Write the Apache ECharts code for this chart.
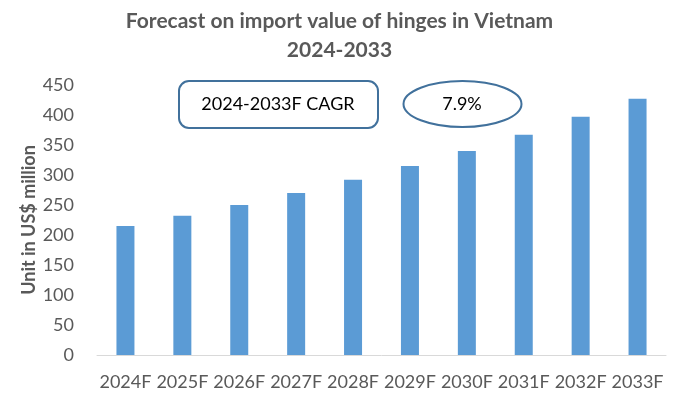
<!DOCTYPE html>
<html>
<head>
<meta charset="utf-8">
<script src="https://cdn.jsdelivr.net/npm/echarts@6/dist/echarts.min.js"></script>
<style>
html,body{margin:0;padding:0;background:#fff;}
#chart{width:679px;height:410px;}
</style>
</head>
<body>
<div id="chart"></div>
<script>
const categories = ['2024F','2025F','2026F','2027F','2028F','2029F','2030F','2031F','2032F','2033F'];
const importValues = [215, 232, 250, 270, 292, 315, 340, 367, 397, 427];
const titleLines = ['Forecast on import value of hinges in Vietnam', '2024-2033'];
const yAxisName = 'Unit in US$ million';
const cagrLabel = '2024-2033F CAGR';
const cagrValue = '7.9%';

const FONT = 'Lato, "Open Sans", sans-serif';
const chart = echarts.init(document.getElementById('chart'), null, {renderer: 'canvas'});
chart.setOption({
  animation: false,
  backgroundColor: '#fff',
  title: {
    text: titleLines.join('\n'),
    left: 'center',
    top: 2,
    textStyle: {fontFamily: FONT, fontSize: 21, fontWeight: 'bold', color: '#595959', lineHeight: 28.5}
  },
  grid: {left: 97, right: 13, top: 85, bottom: 55},
  xAxis: {
    type: 'category',
    data: categories,
    axisLine: {lineStyle: {color: '#d9d9d9', width: 1}},
    axisTick: {show: false},
    axisLabel: {fontFamily: FONT, fontSize: 18, color: '#595959', margin: 18, interval: 0}
  },
  yAxis: {
    type: 'value',
    min: 0, max: 450, interval: 50,
    name: yAxisName,
    nameLocation: 'middle',
    nameGap: 59,
    nameMoveOverlap: false,
    nameTextStyle: {fontFamily: FONT, fontSize: 18, fontWeight: 'bold', color: '#595959'},
    axisLine: {show: false},
    axisTick: {show: false},
    splitLine: {show: false},
    axisLabel: {fontFamily: FONT, fontSize: 18, color: '#595959', margin: 23}
  },
  series: [{
    type: 'bar',
    data: importValues,
    barWidth: 18,
    itemStyle: {color: '#5B9BD5'}
  }],
  graphic: [
    {
      type: 'rect',
      shape: {x: 179, y: 81, width: 199, height: 47, r: 10},
      style: {fill: '#fff', stroke: '#41719C', lineWidth: 2},
      z: 10
    },
    {
      type: 'text',
      x: 278, y: 104.5,
      style: {text: cagrLabel, fontFamily: FONT, fontSize: 18, fill: '#000', align: 'center', verticalAlign: 'middle'},
      z: 11
    },
    {
      type: 'ellipse',
      shape: {cx: 462.5, cy: 104, rx: 59, ry: 23},
      style: {fill: '#fff', stroke: '#41719C', lineWidth: 2},
      z: 10
    },
    {
      type: 'text',
      x: 462, y: 104.5,
      style: {text: cagrValue, fontFamily: FONT, fontSize: 18, fill: '#000', align: 'center', verticalAlign: 'middle'},
      z: 11
    }
  ]
});
</script>
</body>
</html>
